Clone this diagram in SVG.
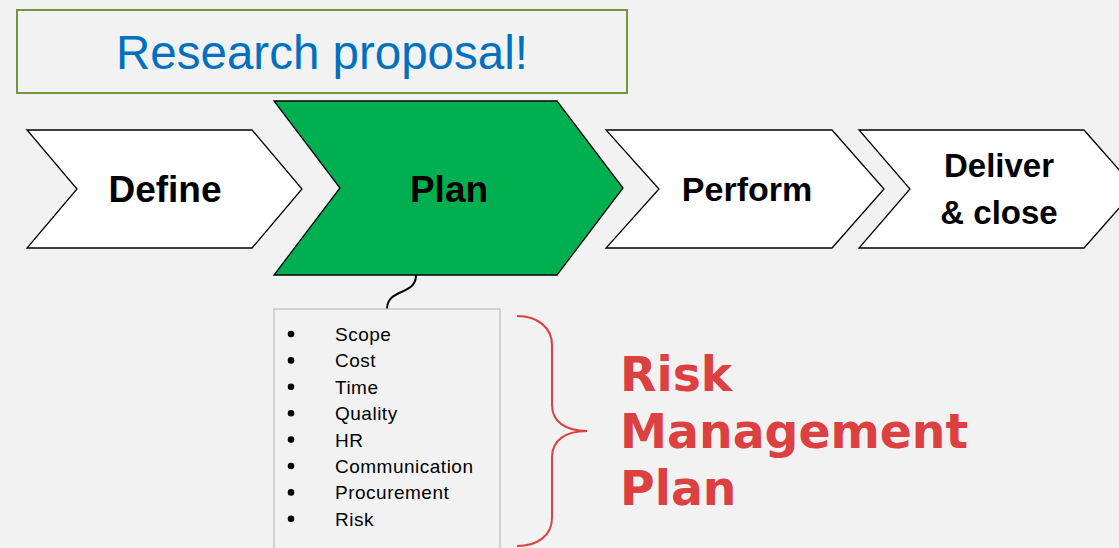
<svg xmlns="http://www.w3.org/2000/svg" width="1119" height="548" viewBox="0 0 1119 548">
<style>
.chev{stroke:#000;stroke-width:1.3;stroke-linejoin:miter}
.lbl{font-family:"Liberation Sans",Arial,sans-serif;font-weight:bold;fill:#000;text-anchor:middle}
.item{font-family:"Liberation Sans",Arial,sans-serif;font-size:19px;letter-spacing:0.5px;fill:#000}
.risk{font-family:"DejaVu Sans",Verdana,sans-serif;font-weight:bold;font-size:47.3px;fill:#dd4040}
</style>
<rect width="1119" height="548" fill="#f2f2f2"/>
<g id="title">
<rect x="17" y="10" width="610" height="83" fill="#f2f2f2" stroke="#77933c" stroke-width="2"/>
<text x="322" y="69" font-family="Liberation Sans, Arial, sans-serif" font-size="47.5" fill="#0070c0" text-anchor="middle">Research proposal!</text>
</g>
<g id="define">
<polygon class="chev" fill="#fff" points="27,130 252,130 302,189 252,248 27,248 77,189"/>
<text class="lbl" x="165" y="202" font-size="37">Define</text>
</g>
<g id="plan">
<polygon class="chev" fill="#00b050" points="274,101 557,101 623,188 557,275 274,275 340,188"/>
<text class="lbl" x="449" y="202" font-size="37">Plan</text>
</g>
<g id="perform">
<polygon class="chev" fill="#fff" points="606,130 832,130 884,189 832,248 606,248 659,189"/>
<text class="lbl" x="747" y="201" font-size="34">Perform</text>
</g>
<g id="deliver">
<polygon class="chev" fill="#fff" points="859,130 1084,130 1136,189 1084,248 859,248 910,189"/>
<text class="lbl" x="999" y="177" font-size="33">Deliver</text>
<text class="lbl" x="999" y="224" font-size="33">&amp; close</text>
</g>
<g id="connectors">
<path d="M416,275 C416,296 387,288 387,309" fill="none" stroke="#000" stroke-width="2"/>
</g>
<g id="list">
<rect x="274" y="309" width="226" height="260" fill="#f2f2f2" stroke="#c0c0c0" stroke-width="1.3"/>
<g fill="#000">
<circle cx="291" cy="334" r="3.3"/>
<circle cx="291" cy="360.4" r="3.3"/>
<circle cx="291" cy="386.8" r="3.3"/>
<circle cx="291" cy="413.2" r="3.3"/>
<circle cx="291" cy="439.6" r="3.3"/>
<circle cx="291" cy="466" r="3.3"/>
<circle cx="291" cy="492.4" r="3.3"/>
<circle cx="291" cy="518.8" r="3.3"/>
</g>
<text class="item" x="335" y="341">Scope</text>
<text class="item" x="335" y="367.4">Cost</text>
<text class="item" x="335" y="393.8">Time</text>
<text class="item" x="335" y="420.2">Quality</text>
<text class="item" x="335" y="446.6">HR</text>
<text class="item" x="335" y="473">Communication</text>
<text class="item" x="335" y="499.4">Procurement</text>
<text class="item" x="335" y="525.8">Risk</text>
</g>
<g id="brace">
<path d="M517,316 C538,316 552,328 552,345 L552,405 C552,422 566,431 587,431 C566,431 552,440 552,457 L552,518 C552,535 538,546 517,546" fill="none" stroke="#dd4040" stroke-width="2"/>
</g>
<g id="risk-label">
<text class="risk" x="620" y="391">Risk</text>
<text class="risk" x="620" y="448">Management</text>
<text class="risk" x="620" y="505">Plan</text>
</g>
</svg>
